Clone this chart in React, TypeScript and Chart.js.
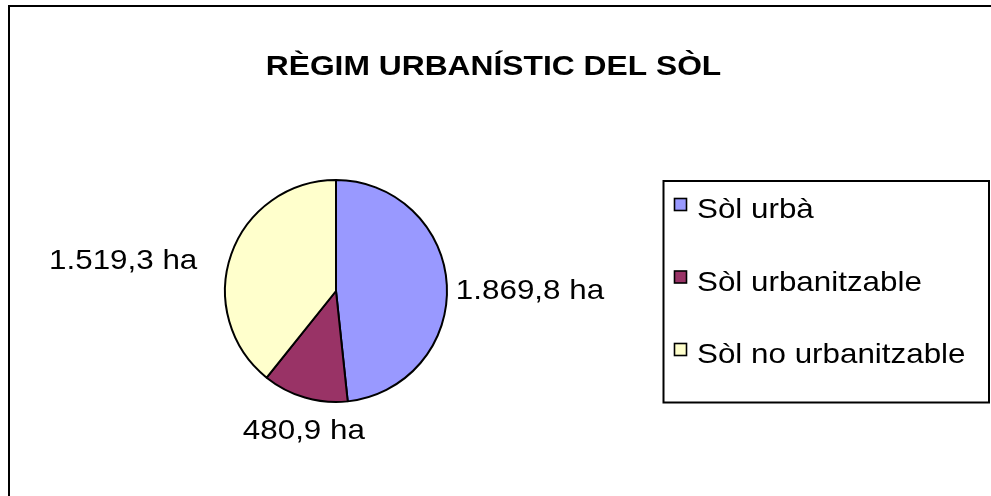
import React, { useEffect, useRef } from "react";
import { Chart, registerables } from "chart.js";

Chart.register(...registerables);

const TITLE = "RÈGIM URBANÍSTIC DEL SÒL";
const CATEGORIES = ["Sòl urbà", "Sòl urbanitzable", "Sòl no urbanitzable"];
const VALUES = [1869.8, 480.9, 1519.3];
const VALUE_LABELS = ["1.869,8 ha", "480,9 ha", "1.519,3 ha"];
const COLORS = ["#9999FF", "#993366", "#FFFFCC"];

const FONT = "'Liberation Sans', Arial, sans-serif";
const SX = 1.12;

function drawText(
  ctx: CanvasRenderingContext2D,
  text: string,
  x: number,
  y: number,
  align: CanvasTextAlign,
  font: string,
  sx: number
) {
  ctx.save();
  ctx.translate(x, y);
  ctx.scale(sx, 1);
  ctx.font = font;
  ctx.textAlign = align;
  ctx.textBaseline = "alphabetic";
  ctx.fillStyle = "#000000";
  ctx.fillText(text, 0, 0);
  ctx.restore();
}

const decorPlugin = {
  id: "decor",
  afterDraw(chart: any) {
    const ctx: CanvasRenderingContext2D = chart.ctx;
    // outer frame
    ctx.save();
    ctx.strokeStyle = "#000000";
    ctx.lineWidth = 2;
    ctx.strokeRect(9, 6, 1200, 800);
    ctx.restore();

    // title
    drawText(ctx, TITLE, 493.5, 75, "center", `bold 28px ${FONT}`, 1.135);

    // data labels
    const meta = chart.getDatasetMeta(0);
    const nudges: Array<[number, number, CanvasTextAlign]> = [
      [9, 14, "left"],
      [-1, 41.5, "center"],
      [-34, 15, "right"],
    ];
    meta.data.forEach((arc: any, i: number) => {
      const p = arc.getProps(["x", "y", "startAngle", "endAngle", "outerRadius"], true);
      const mid = (p.startAngle + p.endAngle) / 2;
      const ax = p.x + Math.cos(mid) * p.outerRadius;
      const ay = p.y + Math.sin(mid) * p.outerRadius;
      const [dx, dy, align] = nudges[i];
      drawText(ctx, VALUE_LABELS[i], ax + dx, ay + dy, align, `28px ${FONT}`, SX);
    });

    // legend box
    ctx.save();
    ctx.strokeStyle = "#000000";
    ctx.lineWidth = 2;
    ctx.strokeRect(663.5, 181, 325.5, 221.5);
    ctx.restore();

    const labels: string[] = chart.data.labels;
    const bg: string[] = chart.data.datasets[0].backgroundColor;
    labels.forEach((lab, i) => {
      const base = 218 + i * 72.5;
      ctx.save();
      ctx.fillStyle = bg[i];
      ctx.fillRect(674.5, base - 19.5, 12, 12);
      ctx.strokeStyle = "#000000";
      ctx.lineWidth = 1.6;
      ctx.strokeRect(674.5, base - 19.5, 12, 12);
      ctx.restore();
      drawText(ctx, lab, 697, base, "left", `28px ${FONT}`, SX);
    });
  },
};

export default function App() {
  const ref = useRef<HTMLCanvasElement | null>(null);
  useEffect(() => {
    if (!ref.current) return;
    const chart = new Chart(ref.current, {
      type: "pie",
      data: {
        labels: CATEGORIES,
        datasets: [
          {
            data: VALUES,
            backgroundColor: COLORS,
            borderColor: "#000000",
            borderWidth: 2,
          },
        ],
      },
      options: {
        responsive: false,
        animation: false,
        layout: { padding: { left: 224, right: 543, top: 179, bottom: 93 } },
        plugins: {
          legend: { display: false },
          title: { display: false },
          tooltip: { enabled: false },
        },
      },
      plugins: [decorPlugin],
    });
    return () => chart.destroy();
  }, []);
  return (
    <div style={{ position: "absolute", left: 0, top: 0, width: 991, height: 496, background: "#ffffff" }}>
      <canvas ref={ref} width={991} height={496} style={{ display: "block" }} />
    </div>
  );
}
